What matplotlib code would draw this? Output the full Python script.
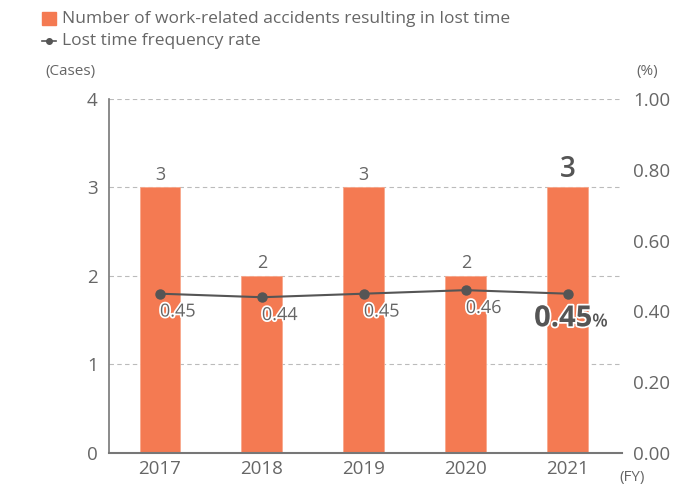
import matplotlib.pyplot as plt
import matplotlib.patheffects as pe

years = ["2017", "2018", "2019", "2020", "2021"]
cases = [3, 2, 3, 2, 3]
rate = [0.45, 0.44, 0.45, 0.46, 0.45]
rate_labels = ["0.45", "0.44", "0.45", "0.46", "0.45"]
left_ticks = [0, 1, 2, 3, 4]
right_ticks = [0.0, 0.2, 0.4, 0.6, 0.8, 1.0]

plt.rcParams["font.family"] = ["Open Sans", "DejaVu Sans"]
GRAY = "#666666"
BAR = "#F47A52"

fig = plt.figure(figsize=(6.81, 4.9), dpi=100)
ax = fig.add_axes([0.160, 0.0755, 0.753, 0.7225])
x = list(range(len(years)))
ax.bar(x, cases, width=0.4, color=BAR, edgecolor="#F8A88C", linewidth=0.6, zorder=2)
ax.set_ylim(0, 4)
ax.set_xlim(-0.5, 4.53)
ax.set_yticks(left_ticks)
ax.set_yticklabels([str(t) for t in left_ticks])
ax.set_xticks(x)
ax.set_xticklabels(years)
ax.tick_params(axis="both", length=0, colors=GRAY, labelsize=13.5, pad=8)
ax.tick_params(axis="x", pad=5)
for t in [1, 2, 3, 4]:
    ax.axhline(t, color="#BBBBBB", linestyle=(0, (4, 3)), linewidth=0.8, zorder=1)
for s in ["top", "right"]:
    ax.spines[s].set_visible(False)
ax.spines["left"].set_color("#777777")
ax.spines["bottom"].set_color("#777777")
ax.spines["left"].set_linewidth(1.2)
ax.spines["bottom"].set_linewidth(1.5)

for i, v in enumerate(cases):
    last = i == len(cases) - 1
    ax.text(i, v + 0.04, str(v), ha="center", va="bottom",
            color="#555555" if last else GRAY,
            fontsize=20 if last else 13, fontweight="semibold" if last else "normal", zorder=4)

ax2 = ax.twinx()
ax2.set_ylim(0, 1.0)
ax2.set_yticks(right_ticks)
ax2.set_yticklabels([f"{t:.2f}" for t in right_ticks])
ax2.tick_params(axis="y", length=0, colors=GRAY, labelsize=13.5, pad=8)
for s in ["top", "right", "left", "bottom"]:
    ax2.spines[s].set_visible(False)
ax2.plot(x, rate, "-o", color="#555555", markersize=6.5, linewidth=1.5, zorder=5)

stroke = [pe.withStroke(linewidth=2.5, foreground="white")]
for i, (v, lab) in enumerate(zip(rate, rate_labels)):
    if i == len(rate) - 1:
        t = ax2.text(i - 0.33, v - 0.03, lab, ha="left", va="top", color="#555555",
                     fontsize=21, fontweight="bold", path_effects=stroke, zorder=6)
        ax2.annotate("%", xy=(1, 0), xycoords=t, xytext=(0, 2), textcoords="offset points",
                     ha="left", va="bottom", color="#555555", fontsize=13, fontweight="semibold",
                     path_effects=stroke, zorder=6)
    else:
        ax2.text(i, v - 0.025, lab, ha="left", va="top", color=GRAY,
                 fontsize=13, path_effects=stroke, zorder=6)

fig.text(0.066, 0.855, "(Cases)", color=GRAY, fontsize=11, va="center")
fig.text(0.935, 0.855, "(%)", color=GRAY, fontsize=11, va="center")
fig.text(0.910, 0.025, "(FY)", color=GRAY, fontsize=11, va="center")

# legend
fig.patches.append(plt.Rectangle((0.062, 0.948), 0.02, 0.028, transform=fig.transFigure,
                                 color=BAR, figure=fig))
fig.text(0.091, 0.962, "Number of work-related accidents resulting in lost time",
         color=GRAY, fontsize=12.5, va="center")
fig.lines.append(plt.Line2D([0.062, 0.082], [0.916, 0.916], transform=fig.transFigure,
                            color="#555555", linewidth=1.2, figure=fig))
fig.lines.append(plt.Line2D([0.072], [0.916], transform=fig.transFigure, color="#555555",
                            marker="o", markersize=4, figure=fig))
fig.text(0.091, 0.916, "Lost time frequency rate", color=GRAY, fontsize=12.5, va="center")

fig.savefig("out.png", dpi=100)
